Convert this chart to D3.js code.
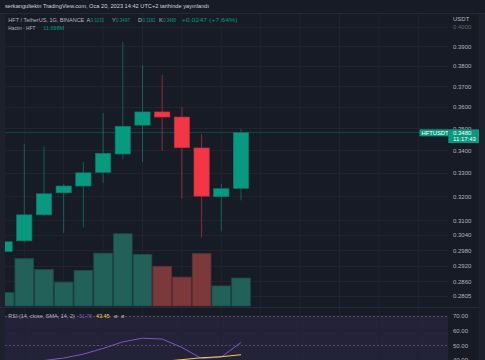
<!DOCTYPE html>
<html>
<head>
<meta charset="utf-8">
<script src="https://cdn.jsdelivr.net/npm/d3@7"></script>
<style>
  html, body { margin: 0; padding: 0; background: #171b26; }
  svg { display: block; }
  text { font-family: "Liberation Sans", Arial, sans-serif; }
</style>
</head>
<body>
<svg id="chart" width="485" height="360"></svg>
<script>
// ---------- data ----------
const opens  = [0.2974, 0.3017, 0.3122, 0.3214, 0.3243, 0.3302, 0.3383, 0.3514, 0.3576, 0.3552, 0.3410, 0.3198, 0.3233];
const highs  = [0.3010, 0.3429, 0.3416, 0.3252, 0.3348, 0.3571, 0.3922, 0.3803, 0.3756, 0.3599, 0.3472, 0.3252, 0.3497];
const lows   = [0.2960, 0.3011, 0.3118, 0.3048, 0.3071, 0.3257, 0.3362, 0.3347, 0.3398, 0.3189, 0.3029, 0.3055, 0.3182];
const closes = [0.3013, 0.3122, 0.3210, 0.3243, 0.3300, 0.3386, 0.3509, 0.3576, 0.3552, 0.3411, 0.3200, 0.3232, 0.3480];
const volumes = [5.6, 19.9, 15.3, 10.0, 14.9, 22.1, 30.2, 21.6, 16.6, 12.1, 21.9, 8.4, 11.698]; // millions
const rsiValues = [33.0, 36.0, 39.5, 41.2, 43.9, 47.7, 52.2, 54.7, 54.1, 48.4, 40.9, 41.9, 51.78];
const rsiMaValues = [null, null, null, null, null, null, 36.5, 37.6, 38.9, 40.1, 41.4, 42.1, 43.45];
const priceTicks = [0.4000, 0.3900, 0.3800, 0.3700, 0.3600, 0.3500, 0.3400, 0.3300, 0.3200, 0.3100, 0.3040, 0.2980, 0.2920, 0.2860, 0.2805];
const rsiTicks = [70, 60, 50, 40];
const rsiBands = [70, 50, 30];
const lastPrice = 0.3480;

// ---------- colors ----------
const BG = "#171b26";
const UP = "#089981", DOWN = "#f23645";
const GRID = "#20242f";
const TEXT = "#b2b5be";

// ---------- layout ----------
const plotL = 5, plotR = 448, paneTop = 13, paneBot = 307, rsiTop = 308, H = 360;
const svg = d3.select("#chart");

svg.append("rect").attr("width", 485).attr("height", H).attr("fill", BG);
svg.append("rect").attr("x", 0).attr("y", 13).attr("width", plotL).attr("height", H - 13).attr("fill", "#1d212c");
svg.append("rect").attr("x", 479).attr("y", 13).attr("width", 6).attr("height", H - 13).attr("fill", "#1d212c");
svg.append("line").attr("x1", 0).attr("x2", 485).attr("y1", 13.5).attr("y2", 13.5).attr("stroke", "#262a35");
svg.append("line").attr("x1", 0).attr("x2", 479).attr("y1", 307.5).attr("y2", 307.5).attr("stroke", "#262a35");

// scales
const idx = d3.range(opens.length);
const x = d3.scaleLinear().domain([0, 12]).range([4.6, 241]);
const step = x(1) - x(0);
const y = d3.scaleLog().domain([0.4, 0.2805]).range([27, 296]);
const yVol = d3.scaleLinear().domain([0, 40]).range([306, 306 - 95.7]);
const yRsi = d3.scaleLinear().domain([40, 70]).range([359.8, 315.7]);

const defs = svg.append("defs");
defs.append("clipPath").attr("id", "clipMain").append("rect")
  .attr("x", plotL).attr("y", paneTop + 1).attr("width", plotR - plotL).attr("height", paneBot - paneTop - 1);
defs.append("clipPath").attr("id", "clipRsi").append("rect")
  .attr("x", plotL).attr("y", rsiTop).attr("width", plotR - plotL).attr("height", H - rsiTop);

// ---------- main pane ----------
const main = svg.append("g").attr("clip-path", "url(#clipMain)");

// grid
main.selectAll("line.hgrid").data(priceTicks).join("line")
  .attr("x1", plotL).attr("x2", plotR)
  .attr("y1", d => Math.round(y(d)) + 0.5).attr("y2", d => Math.round(y(d)) + 0.5)
  .attr("stroke", GRID);
const vgrid = d3.range(1, 24, 2);
main.selectAll("line.vgrid").data(vgrid).join("line")
  .attr("x1", d => x(d)).attr("x2", d => x(d))
  .attr("y1", paneTop).attr("y2", paneBot).attr("stroke", GRID);

// volume
main.selectAll("rect.vol").data(idx).join("rect")
  .attr("x", i => x(i) - step / 2 + 0.5).attr("width", step - 1)
  .attr("y", i => yVol(volumes[i])).attr("height", i => yVol(0) - yVol(volumes[i]))
  .attr("fill", i => closes[i] >= opens[i] ? "#22605a" : "#7c393c")
  .attr("stroke", i => closes[i] >= opens[i] ? "#1b4a46" : "#5e2e33").attr("stroke-width", 0.8);

// last price line
main.append("line").attr("x1", plotL).attr("x2", plotR)
  .attr("y1", y(lastPrice)).attr("y2", y(lastPrice))
  .attr("stroke", UP).attr("stroke-opacity", 0.35).attr("stroke-width", 1);

// wicks
main.selectAll("line.wick").data(idx).join("line")
  .attr("x1", i => x(i)).attr("x2", i => x(i))
  .attr("y1", i => y(highs[i])).attr("y2", i => y(lows[i]))
  .attr("stroke", i => closes[i] >= opens[i] ? UP : DOWN)
  .attr("stroke-opacity", 0.55).attr("stroke-width", 1);

// bodies
const bw = 15.3;
main.selectAll("rect.body").data(idx).join("rect")
  .attr("x", i => x(i) - bw / 2).attr("width", bw)
  .attr("y", i => y(Math.max(opens[i], closes[i])))
  .attr("height", i => Math.max(1, y(Math.min(opens[i], closes[i])) - y(Math.max(opens[i], closes[i]))))
  .attr("fill", i => closes[i] >= opens[i] ? UP : DOWN)
  .attr("stroke", i => closes[i] >= opens[i] ? "#0b7a68" : "#c22d3a").attr("stroke-width", 0.6);

// price axis
const axis = svg.append("g").attr("transform", `translate(451,0)`)
  .call(d3.axisRight(y).tickValues(priceTicks).tickFormat(d3.format(".4f")).tickSize(0).tickPadding(2));
axis.select(".domain").remove();
axis.selectAll("text").attr("fill", TEXT).attr("font-size", 6).style("font-family", "Liberation Sans, Arial, sans-serif")
  .attr("fill-opacity", d => d === 0.4 ? 0.5 : 1);
svg.append("text").attr("x", 453).attr("y", 21).attr("fill", TEXT).attr("font-size", 6).text("USDT");

// last price label
svg.append("rect").attr("x", 419.5).attr("y", 129.3).attr("width", 29).attr("height", 7).attr("fill", UP);
svg.append("text").attr("x", 421.5).attr("y", 134.8).attr("fill", "#ffffff").attr("font-size", 5.8).text("HFTUSDT");
svg.append("rect").attr("x", 448.3).attr("y", 129.3).attr("width", 30.7).attr("height", 13.7).attr("fill", UP);
svg.append("text").attr("x", 453).attr("y", 134.8).attr("fill", "#ffffff").attr("font-size", 6).text(d3.format(".4f")(lastPrice));
svg.append("text").attr("x", 453).attr("y", 141.3).attr("fill", "#ffffff").attr("font-size", 6).text("11:17:43");

// ---------- RSI pane ----------
const rsiG = svg.append("g").attr("clip-path", "url(#clipRsi)");
rsiG.append("rect").attr("x", plotL).attr("width", plotR - plotL)
  .attr("y", yRsi(70)).attr("height", yRsi(30) - yRsi(70)).attr("fill", "#7e57c2").attr("fill-opacity", 0.12);
rsiG.selectAll("line.rgrid").data([60, 40]).join("line")
  .attr("x1", plotL).attr("x2", plotR).attr("y1", d => yRsi(d)).attr("y2", d => yRsi(d)).attr("stroke", GRID);
rsiG.selectAll("line.vg").data(vgrid).join("line")
  .attr("x1", d => x(d)).attr("x2", d => x(d)).attr("y1", rsiTop).attr("y2", H).attr("stroke", GRID);
rsiG.selectAll("line.band").data(rsiBands).join("line")
  .attr("x1", plotL).attr("x2", plotR).attr("y1", d => Math.round(yRsi(d)) + 0.5).attr("y2", d => Math.round(yRsi(d)) + 0.5)
  .attr("stroke", "#5d606b").attr("stroke-dasharray", "2,2").attr("stroke-width", 0.8);
const line = d3.line().defined(d => d[1] != null).x(d => x(d[0])).y(d => yRsi(d[1]));
rsiG.append("path").datum(idx.map(i => [i, rsiValues[i]])).attr("d", line)
  .attr("fill", "none").attr("stroke", "#7e57c2").attr("stroke-width", 1);
rsiG.append("path").datum(idx.map(i => [i, rsiMaValues[i]])).attr("d", line)
  .attr("fill", "none").attr("stroke", "#f7d23a").attr("stroke-width", 1);

const rAxis = svg.append("g").attr("transform", `translate(451,0)`)
  .call(d3.axisRight(yRsi).tickValues(rsiTicks).tickFormat(d3.format(".2f")).tickSize(0).tickPadding(2));
rAxis.select(".domain").remove();
rAxis.selectAll("text").attr("fill", TEXT).attr("font-size", 6).style("font-family", "Liberation Sans, Arial, sans-serif");

// ---------- text helper ----------
function label(xp, yp, txt, color, w, fs) {
  const t = svg.append("text").attr("x", xp).attr("y", yp).attr("fill", color).attr("font-size", fs || 5.6).text(txt);
  if (w) t.attr("textLength", w).attr("lengthAdjust", "spacingAndGlyphs");
  return t;
}

// RSI legend
label(8.3, 318.3, "RSI (14, close, SMA, 14, 2)", TEXT, 66.5);
label(79.3, 318.3, d3.format(".2f")(rsiValues[12]), "#7e57c2", 12.4);
label(96, 318.3, d3.format(".2f")(rsiMaValues[12]), "#f7d23a", 13.6);
label(114, 318.3, "ø", TEXT);
label(121, 318.3, "ø", TEXT);

// ---------- headers ----------
label(5, 8, "serkangultekin TradingView.com, Oca 20, 2023 14:42 UTC+2 tarihinde yayınlandı", "#d1d4dc", 204, 6);

const fmt4 = d3.format(".4f");
const last = 12;
label(8.3, 22.3, "HFT / TetherUS, 1G, BINANCE", TEXT, 76);
label(86.5, 22.3, "A", TEXT);
label(90.7, 22.3, fmt4(opens[last]), UP, 13.3);
label(112, 22.3, "Y", TEXT);
label(116, 22.3, fmt4(highs[last]), UP, 14);
label(138, 22.3, "D", TEXT);
label(142.7, 22.3, fmt4(lows[last]), UP, 12.8);
label(159, 22.3, "K", TEXT);
label(163.3, 22.3, fmt4(closes[last]), UP, 12.8);
label(181.7, 22.3, "+0.0247 (+7.64%)", UP, 56);
label(8.3, 30.2, "Hacim · HFT", TEXT, 27);
label(43.3, 30.2, d3.format(".3f")(volumes[12]) + "M", UP, 21);
</script>
</body>
</html>
